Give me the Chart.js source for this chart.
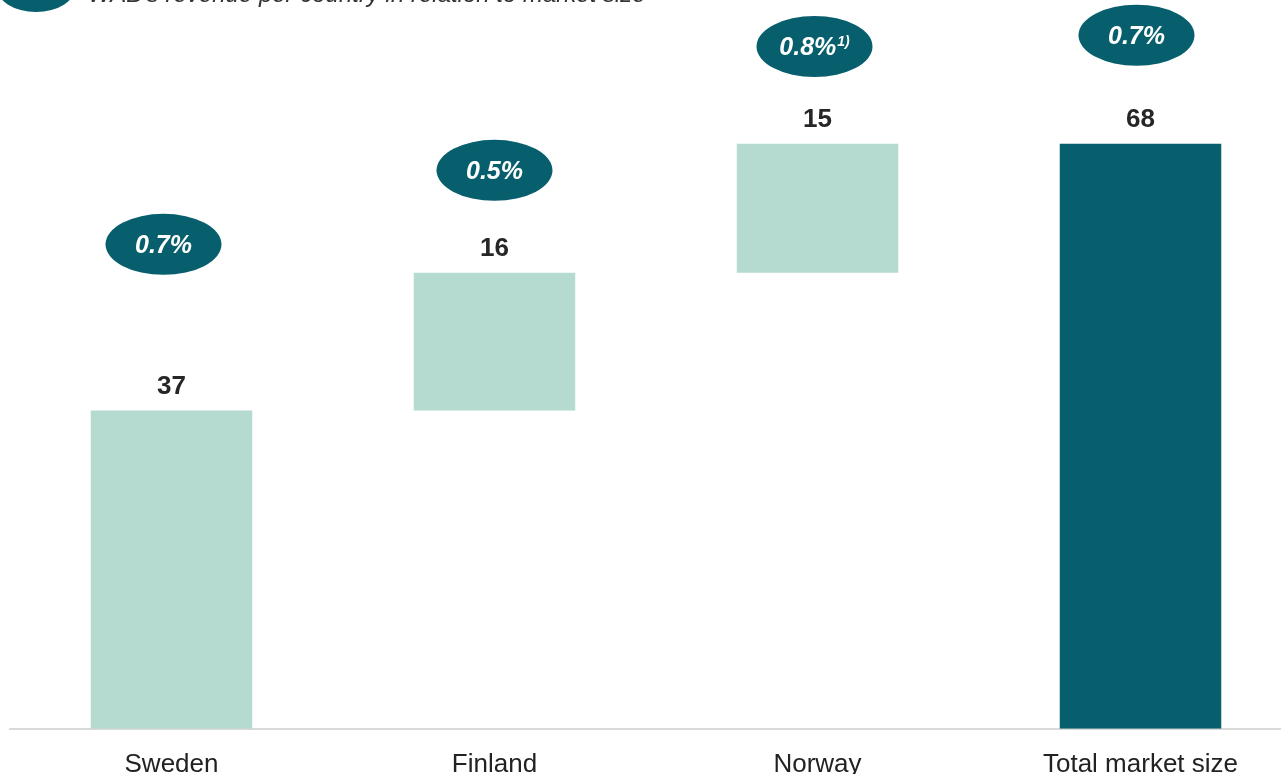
<!DOCTYPE html>
<html>
<head>
<meta charset="utf-8">
<script src="https://cdn.jsdelivr.net/npm/chart.js@4.4.1/dist/chart.umd.min.js"></script>
<style>
  html, body { margin: 0; padding: 0; background: #fff; overflow: hidden; }
  #wrap { position: relative; width: 1302px; height: 774px; }
</style>
</head>
<body>
<div id="wrap"><canvas id="grafico" width="1302" height="774"></canvas></div>
<script>
// Dados
const categorias = ['Sweden', 'Finland', 'Norway', 'Total market size'];
const inicio = [0, 37, 53, 0];
const valores = [37, 16, 15, 68];
const participacao = ['0.7%', '0.5%', '0.8%', '0.7%'];
const notas = ['', '', '1)', ''];

// Cores
const corClara = '#b5dacf';
const corEscura = '#075f6d';
const coresBarras = ['claro', 'claro', 'claro', 'escuro'].map(c => c === 'escuro' ? corEscura : corClara);

// Altura das bolhas (em unidades do eixo y) e deslocamento horizontal
const bolhaNivel = [56.3, 64.9, 79.3, 80.6];
const bolhaDx = [-8, 0, -3, -4];

const fonte = '"Liberation Sans", Arial, sans-serif';

const rotulos = {
  id: 'rotulos',
  afterDatasetsDraw(chart) {
    const ctx = chart.ctx;
    const meta = chart.getDatasetMeta(0);
    const y = chart.scales.y;
    ctx.save();

    meta.data.forEach((bar, i) => {
      // valor acima da barra
      ctx.fillStyle = '#262626';
      ctx.font = 'bold 26px ' + fonte;
      ctx.textAlign = 'center';
      ctx.textBaseline = 'middle';
      ctx.fillText(String(valores[i]), bar.x, bar.y - 24);

      // bolha com a participação
      const cx = bar.x + bolhaDx[i];
      const cy = y.getPixelForValue(bolhaNivel[i]);
      ctx.fillStyle = corEscura;
      ctx.beginPath();
      ctx.ellipse(cx, cy, 58, 30.5, 0, 0, Math.PI * 2);
      ctx.fill();

      ctx.fillStyle = '#ffffff';
      ctx.font = 'italic bold 25px ' + fonte;
      const txt = participacao[i];
      const w1 = ctx.measureText(txt).width;
      ctx.font = 'italic bold 14px ' + fonte;
      const w2 = notas[i] ? ctx.measureText(notas[i]).width + 1 : 0;
      const x0 = cx - (w1 + w2) / 2;
      ctx.textAlign = 'left';
      ctx.font = 'italic bold 25px ' + fonte;
      ctx.fillText(txt, x0, cy + 2);
      if (notas[i]) {
        ctx.font = 'italic bold 14px ' + fonte;
        ctx.fillText(notas[i], x0 + w1 + 1, cy - 4);
      }
    });

    // legenda no topo (cortada)
    ctx.fillStyle = corEscura;
    ctx.beginPath();
    ctx.ellipse(36, -14, 40, 26, 0, 0, Math.PI * 2);
    ctx.fill();
    ctx.fillStyle = '#ffffff';
    ctx.font = 'italic bold 24px ' + fonte;
    ctx.textAlign = 'center';
    ctx.textBaseline = 'alphabetic';
    ctx.fillText('%', 36, -3);
    ctx.fillStyle = '#333333';
    ctx.font = 'italic 24px ' + fonte;
    ctx.textAlign = 'left';
    ctx.fillText("WAB's revenue per country in relation to market size", 88, 2);

    ctx.restore();
  }
};

new Chart(document.getElementById('grafico'), {
  type: 'bar',
  data: {
    labels: categorias,
    datasets: [{
      data: inicio.map((b, i) => [b, b + valores[i]]),
      backgroundColor: coresBarras,
      borderWidth: 0,
      borderSkipped: false,
      barPercentage: 0.5,
      categoryPercentage: 1
    }]
  },
  options: {
    responsive: false,
    animation: false,
    layout: { padding: { left: 10, right: 0, top: 0, bottom: -26 } },
    plugins: { legend: { display: false }, tooltip: { enabled: false } },
    scales: {
      x: {
        grid: { display: false, drawTicks: false },
        border: { display: true, color: '#d9d9d9', width: 2 },
        ticks: { color: '#222', padding: 20, font: { family: fonte, size: 26 } }
      },
      y: { display: false, min: 0, max: 84.7 }
    }
  },
  plugins: [rotulos]
});
</script>
</body>
</html>
